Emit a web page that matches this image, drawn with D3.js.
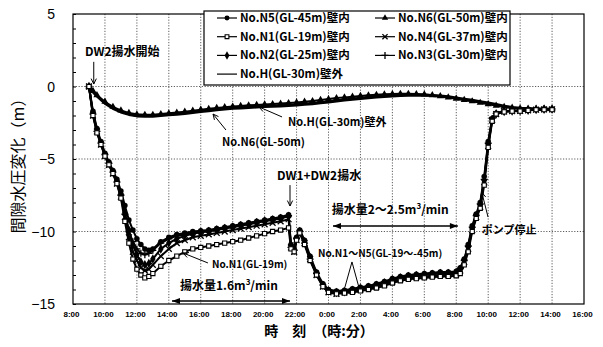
<!DOCTYPE html>
<html><head><meta charset="utf-8">
<script src="https://cdn.jsdelivr.net/npm/d3@7"></script>
<style>
html,body{margin:0;padding:0;background:#fff;}
svg{display:block;}
text{font-family:"Noto Sans CJK JP","Noto Sans",sans-serif;fill:#000;}
</style></head>
<body>
<svg id="chart" width="603" height="347"></svg>
<script>
// ---- time axis (hours from 8:00 on day 1) ----
const X_TICKS = [8,10,12,14,16,18,20,22,24,26,28,30,32,34,36,38,40];
const X_TICK_LABELS = ["8:00","10:00","12:00","14:00","16:00","18:00","20:00","22:00","0:00","2:00","4:00","6:00","8:00","10:00","12:00","14:00","16:00"];
const Y_TICKS = [5,0,-5,-10,-15];

// ---- inner wells N1..N5 ----
const T_LOW = [9.0,9.25,9.5,9.75,10.0,10.25,10.5,10.75,11.0,11.25,11.5,11.75,12.0,12.25,12.5,12.75,
  13.0,13.5,14.0,14.5,15.0,15.5,16.0,16.5,17.0,17.5,18.0,18.5,19.0,19.5,20.0,20.5,21.0,21.5,
  21.65,21.85,22.0,22.2,22.5,22.85,23.25,23.65,
  24.0,24.5,25.0,25.5,26.0,26.5,27.0,27.5,28.0,28.5,29.0,29.5,30.0,30.5,31.0,31.5,32.0,
  32.25,32.5,32.75,33.0,33.25,33.5,33.75,34.0,34.25,34.5,
  35.0,35.5,36.0,36.5,37.0,37.5,38.0];
const N5 = [0,-1.7,-2.9,-3.8,-4.6,-5.2,-5.8,-6.4,-7.2,-8.2,-9.2,-9.9,-10.5,-10.9,-11.2,-11.3,
  -11.2,-10.7,-10.4,-10.2,-10.1,-10.0,-9.95,-9.9,-9.8,-9.7,-9.6,-9.5,-9.4,-9.3,-9.2,-9.1,-9.0,-8.85,
  -10.9,-11.2,-10.4,-9.9,-10.6,-11.7,-12.8,-13.6,
  -14.0,-14.1,-14.05,-13.95,-13.85,-13.75,-13.6,-13.45,-13.25,-13.1,-13.0,-12.95,-12.9,-12.85,-12.8,-12.8,-12.75,
  -12.5,-11.9,-10.9,-9.6,-8.8,-8.0,-6.2,-3.8,-2.2,-1.85,
  -1.7,-1.68,-1.66,-1.62,-1.58,-1.56,-1.55];
const N1 = [0,-2.0,-3.2,-4.0,-4.8,-5.4,-6.0,-6.7,-7.7,-9.3,-10.8,-11.9,-12.6,-13.0,-13.2,-13.1,
  -12.9,-12.4,-12.0,-11.7,-11.4,-11.2,-11.1,-11.0,-10.9,-10.8,-10.7,-10.6,-10.45,-10.3,-10.15,-10.0,-9.9,-9.75,
  -11.2,-11.4,-10.6,-10.1,-10.9,-12.0,-13.0,-13.8,
  -14.2,-14.3,-14.25,-14.2,-14.1,-14.0,-13.9,-13.75,-13.55,-13.4,-13.3,-13.25,-13.2,-13.15,-13.1,-13.1,-13.05,
  -12.9,-12.3,-11.4,-10.0,-9.1,-8.4,-6.8,-4.2,-2.4,-1.9,
  -1.75,-1.7,-1.7,-1.65,-1.6,-1.6,-1.6];
const N2 = [0,-1.8,-3.0,-3.9,-4.7,-5.3,-5.9,-6.5,-7.4,-8.7,-9.9,-10.9,-11.6,-12.1,-12.3,-12.2,
  -11.9,-11.2,-10.8,-10.5,-10.3,-10.15,-10.05,-10.0,-9.9,-9.8,-9.7,-9.6,-9.5,-9.4,-9.3,-9.2,-9.1,-8.95,
  -11.0,-11.3,-10.5,-10.0,-10.7,-11.8,-12.9,-13.7,
  -14.1,-14.2,-14.15,-14.05,-13.95,-13.85,-13.7,-13.55,-13.35,-13.2,-13.1,-13.05,-13.0,-12.95,-12.9,-12.9,-12.85,
  -12.6,-12.0,-11.1,-9.8,-8.9,-8.2,-6.5,-4.0,-2.3,-1.9,
  -1.72,-1.69,-1.67,-1.63,-1.59,-1.57,-1.56];
const N3 = [0,-1.9,-3.1,-3.9,-4.7,-5.3,-5.9,-6.6,-7.5,-8.8,-10.0,-10.7,-11.2,-11.5,-11.6,-11.5,
  -11.3,-10.8,-10.5,-10.3,-10.2,-10.1,-10.0,-9.95,-9.85,-9.75,-9.65,-9.55,-9.45,-9.35,-9.25,-9.15,-9.05,-8.9,
  -11.1,-11.3,-10.5,-10.0,-10.8,-11.9,-12.9,-13.7,
  -14.1,-14.2,-14.1,-14.0,-13.9,-13.8,-13.65,-13.5,-13.3,-13.15,-13.05,-13.0,-12.95,-12.9,-12.85,-12.85,-12.8,
  -12.55,-12.0,-11.0,-9.7,-8.9,-8.1,-6.4,-3.9,-2.2,-1.85,
  -1.7,-1.68,-1.66,-1.62,-1.58,-1.56,-1.55];
const N4 = [0,-2.0,-3.1,-4.0,-4.8,-5.4,-6.0,-6.7,-7.6,-9.0,-10.4,-11.4,-12.0,-12.5,-12.7,-12.6,
  -12.3,-11.7,-11.2,-10.8,-10.6,-10.4,-10.3,-10.2,-10.1,-10.0,-9.9,-9.8,-9.7,-9.6,-9.5,-9.4,-9.3,-9.15,
  -11.1,-11.4,-10.6,-10.1,-10.8,-11.9,-13.0,-13.8,
  -14.2,-14.3,-14.2,-14.1,-14.0,-13.9,-13.8,-13.65,-13.45,-13.3,-13.2,-13.15,-13.1,-13.05,-13.0,-13.0,-12.95,
  -12.7,-12.1,-11.2,-9.9,-9.0,-8.3,-6.6,-4.1,-2.3,-1.9,
  -1.72,-1.7,-1.68,-1.64,-1.6,-1.58,-1.57];

// ---- outer well H and deep well N6 ----
const T_UP = [9.0,9.25,9.5,10.0,10.5,11.0,11.5,12.0,12.5,13.0,13.5,14.0,14.5,15.0,15.5,16.0,16.5,17.0,17.5,18.0,
  18.5,19.0,19.5,20.0,20.5,21.0,21.5,22.0,22.5,23.0,23.5,24.0,24.5,25.0,25.5,26.0,26.5,27.0,27.5,28.0,
  28.5,29.0,29.5,30.0,30.5,31.0,31.5,32.0,32.5,33.0,33.5,34.0,34.5,35.0,35.5,36.0,36.5,37.0,37.5,38.0];
const H = [0,-0.35,-0.65,-1.15,-1.5,-1.75,-1.92,-2.02,-2.05,-2.04,-2.0,-1.95,-1.9,-1.85,-1.78,-1.72,-1.66,-1.6,-1.55,-1.5,
  -1.47,-1.44,-1.41,-1.38,-1.35,-1.33,-1.3,-1.27,-1.22,-1.18,-1.12,-1.06,-0.99,-0.93,-0.87,-0.82,-0.77,-0.72,-0.68,-0.65,
  -0.62,-0.6,-0.59,-0.6,-0.62,-0.66,-0.72,-0.8,-0.88,-0.96,-1.05,-1.14,-1.25,-1.36,-1.45,-1.51,-1.54,-1.56,-1.57,-1.57];
const N6 = [0,-0.3,-0.6,-1.05,-1.4,-1.65,-1.82,-1.92,-1.95,-1.95,-1.9,-1.85,-1.8,-1.74,-1.67,-1.6,-1.54,-1.48,-1.43,-1.38,
  -1.34,-1.3,-1.27,-1.24,-1.21,-1.18,-1.14,-1.1,-1.05,-1.0,-0.93,-0.87,-0.8,-0.75,-0.7,-0.65,-0.61,-0.57,-0.54,-0.52,
  -0.5,-0.5,-0.52,-0.55,-0.6,-0.67,-0.75,-0.84,-0.93,-1.02,-1.12,-1.22,-1.32,-1.4,-1.46,-1.5,-1.52,-1.53,-1.53,-1.54];

const SERIES = [
  {name:"No.N5(GL-45m)壁内", t:T_LOW, v:N5, mk:"circle", col:0, row:0},
  {name:"No.N1(GL-19m)壁内", t:T_LOW, v:N1, mk:"square", col:0, row:1},
  {name:"No.N2(GL-25m)壁内", t:T_LOW, v:N2, mk:"diamond", col:0, row:2},
  {name:"No.H(GL-30m)壁外",  t:T_UP,  v:H,  mk:"none", col:0, row:3},
  {name:"No.N6(GL-50m)壁内", t:T_UP,  v:N6, mk:"triangle", col:1, row:0},
  {name:"No.N4(GL-37m)壁内", t:T_LOW, v:N4, mk:"x", col:1, row:1},
  {name:"No.N3(GL-30m)壁内", t:T_LOW, v:N3, mk:"plus", col:1, row:2}
];
SERIES.forEach(s => { if (s.t.length !== s.v.length) throw new Error(s.name + " length " + s.v.length + " vs " + s.t.length); });

const svg = d3.select("#chart");
const L = 73, R = 584, T = 14, B = 304;
const x = d3.scaleLinear().domain([8,40]).range([L,R]);
const y = d3.scaleLinear().domain([-15,5]).range([B,T]);

// grid
const grid = svg.append("g");
X_TICKS.slice(1,-1).forEach(h => grid.append("line").attr("x1",x(h)).attr("x2",x(h)).attr("y1",T).attr("y2",B)
  .attr("stroke","#333").attr("stroke-width",0.8).attr("stroke-dasharray","1.2,1.6"));
[0,-5,-10].forEach(v => grid.append("line").attr("x1",L).attr("x2",R).attr("y1",y(v)).attr("y2",y(v))
  .attr("stroke","#333").attr("stroke-width",0.8).attr("stroke-dasharray","1.2,1.6"));

// y axis (minor ticks inward)
const yAxis = d3.axisLeft(y).tickValues(d3.range(-15,6,1)).tickSize(-3).tickFormat("");
const ya = svg.append("g").attr("transform",`translate(${L},0)`).call(yAxis);
ya.select(".domain").remove();
ya.selectAll("line").attr("stroke","#000");
Y_TICKS.forEach(v => svg.append("text").attr("x",55).attr("y",y(v)+5).attr("text-anchor","end")
  .style("font-family","Arial, 'Liberation Sans'").style("font-size","14px").text(v < 0 ? "\u2212" + Math.abs(v) : v));

// x axis labels
const xAxis = d3.axisBottom(x).tickValues(X_TICKS).tickSize(0).tickPadding(0)
  .tickFormat((d,i) => X_TICK_LABELS[i]);
const xa = svg.append("g").attr("transform",`translate(-2,${B+13})`).call(xAxis);
xa.select(".domain").remove();
xa.selectAll("text").style("font-family","Arial, 'Liberation Sans'").style("font-size","8px").attr("dy","0")
  .style("font-weight","bold").attr("fill","#000");

// titles
svg.append("text").attr("transform",`translate(24,${(T+B)/2+3}) rotate(-90)`).attr("text-anchor","middle")
  .style("font-size","16px").text("間隙水圧変化（m）");
svg.append("text").attr("x",319).attr("y",336).attr("text-anchor","middle")
  .style("font-size","14px").style("font-weight","bold").text("時\u3000刻\u3000（時:分）");

// series
svg.append("defs").append("clipPath").attr("id","pc").append("rect")
  .attr("x",L).attr("y",T).attr("width",R-L).attr("height",B-T);
const plot = svg.append("g").attr("clip-path","url(#pc)");

function marker(g, type, cx, cy, k) {
  k = k || 1;
  const p = g.append("path").attr("transform",`translate(${cx},${cy})`);
  if (type === "circle") p.attr("d", d3.symbol(d3.symbolCircle, 24*k)()).attr("fill","#000");
  else if (type === "square") p.attr("d", d3.symbol(d3.symbolSquare, 18*k)()).attr("fill","#fff").attr("stroke","#000").attr("stroke-width",1.1);
  else if (type === "diamond") p.attr("d", d3.symbol(d3.symbolDiamond, 26*k)()).attr("fill","#000");
  else if (type === "triangle") p.attr("d", d3.symbol(d3.symbolTriangle, 22*k)()).attr("fill","#000");
  else if (type === "x") p.attr("d", d3.symbol(d3.symbolX, 24*k)()).attr("fill","none").attr("stroke","#000").attr("stroke-width",1.3);
  else if (type === "plus") p.attr("d","M-3.5,0H3.5M0,-3.5V3.5").attr("fill","none").attr("stroke","#000").attr("stroke-width",1.3);
  else p.remove();
}

const line = d3.line().x(d => x(d[0])).y(d => y(d[1]));
const order = [3,4,5,6,2,0,1];
order.forEach(i => {
  const s = SERIES[i];
  const pts = s.t.map((t,k) => [t, s.v[k]]);
  plot.append("path").datum(pts).attr("d", line).attr("fill","none").attr("stroke","#000")
    .attr("stroke-width", s.mk === "none" ? 3.2 : 2).attr("stroke-linejoin","round");
  const mg = plot.append("g");
  pts.forEach(p => marker(mg, s.mk, x(p[0]), y(p[1])));
});

// frame
svg.append("rect").attr("x",L).attr("y",T).attr("width",R-L).attr("height",B-T)
  .attr("fill","none").attr("stroke","#000").attr("stroke-width",1.2);

// legend
const lg = svg.append("g");
lg.append("rect").attr("x",204).attr("y",11).attr("width",306).attr("height",74)
  .attr("fill","#fff").attr("stroke","#000").attr("stroke-width",1.2);
SERIES.forEach(s => {
  const x0 = s.col === 0 ? 217 : 375;
  const yy = 18 + s.row * 18.7;
  lg.append("line").attr("x1",x0).attr("x2",x0+20).attr("y1",yy).attr("y2",yy).attr("stroke","#000").attr("stroke-width",1.2);
  marker(lg, s.mk, x0+10, yy, 0.8);
  lg.append("text").attr("x",x0+23).attr("y",yy+4).style("font-size","11.5px").style("font-weight","bold").text(s.name);
});

// annotations
const ann = svg.append("g");
function arrowHead(x1,y1,x2,y2,size){
  const a = Math.atan2(y2-y1,x2-x1), s = size||5;
  ann.append("path").attr("d",`M${x2-s*Math.cos(a-0.45)},${y2-s*Math.sin(a-0.45)}L${x2},${y2}L${x2-s*Math.cos(a+0.45)},${y2-s*Math.sin(a+0.45)}`)
    .attr("fill","none").attr("stroke","#000").attr("stroke-width",1);
}
function arrow(h1,v1,h2,v2){
  const x1=x(h1),y1=y(v1),x2=x(h2),y2=y(v2);
  ann.append("line").attr("x1",x1).attr("y1",y1).attr("x2",x2).attr("y2",y2).attr("stroke","#000").attr("stroke-width",1);
  arrowHead(x1,y1,x2,y2,6);
}
function dblArrow(h1,h2,v){
  const x1=x(h1),x2=x(h2),yy=y(v);
  ann.append("line").attr("x1",x1).attr("x2",x2).attr("y1",yy).attr("y2",yy).attr("stroke","#000").attr("stroke-width",1.4);
  [[x1,x2],[x2,x1]].forEach(([a,b]) => {
    const d = b > a ? -1 : 1;
    ann.append("path").attr("d",`M${b},${yy}L${b+d*8},${yy-3}L${b+d*8},${yy+3}Z`).attr("fill","#000");
  });
}
function label(h,v,txt,size){
  return ann.append("text").attr("x",x(h)).attr("y",y(v)).style("font-size",(size||12)+"px").style("font-weight","bold").text(txt);
}
function rateLabel(h,v,pre){
  const t = label(h,v,pre);
  t.append("tspan").attr("font-size","8px").attr("dy",-5).text("3");
  t.append("tspan").attr("dy",5).text("/min");
}
label(8.75,2.1,"DW2揚水開始");
arrow(9.3,1.7,9.3,0.17);
label(21.46,-2.72,"No.H(GL-30m)壁外",11);
arrow(21.09,-2.1,19.65,-1.41);
label(17.33,-4.1,"No.N6(GL-50m)",11);
arrow(17.58,-3.0,16.77,-1.9);
label(20.77,-6.45,"DW1+DW2揚水");
arrow(21.59,-6.8,21.59,-8.24);
rateLabel(24.2,-8.8,"揚水量2～2.5m");
dblArrow(24.28,32.1,-9.62);
label(33.6,-10.17,"ポンプ停止",11);
arrow(33.99,-9.0,33.6,-7.3);
label(23.34,-11.76,"No.N1～N5(GL-19～-45m)",10);
ann.append("path").attr("d",`M${x(25.03)},${y(-13.83)}L${x(25.47)},${y(-12.1)}L${x(25.9)},${y(-13.83)}`)
  .attr("fill","none").attr("stroke","#000").attr("stroke-width",1);
label(16.7,-12.5,"No.N1(GL-19m)",10);
arrow(16.45,-12.17,14.89,-11.48);
rateLabel(14.7,-14.03,"揚水量1.6m");
dblArrow(14.2,21.59,-14.79);
</script>
</body></html>
